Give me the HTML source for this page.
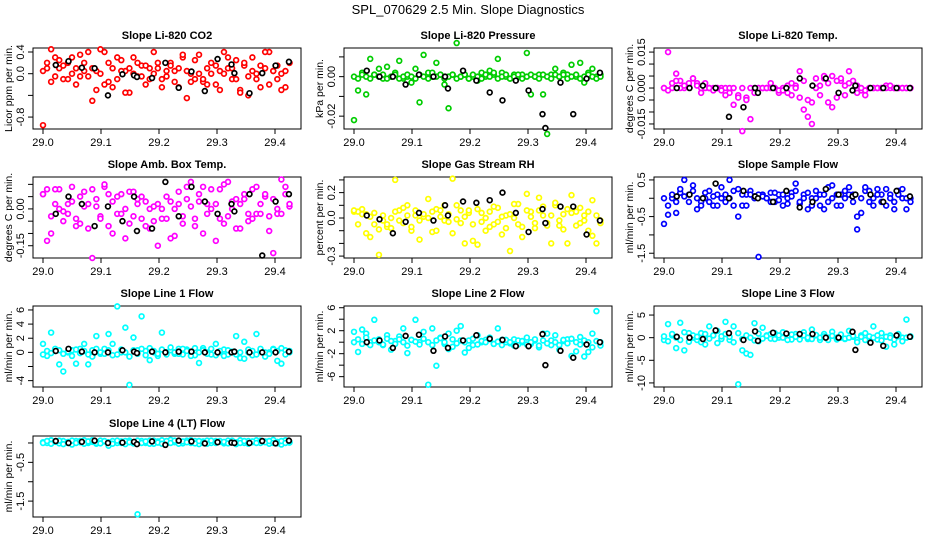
<!DOCTYPE html>
<html><head><meta charset="utf-8"><style>
body{margin:0;background:#fff}
svg{display:block;font-family:"Liberation Sans",sans-serif}
</style></head><body>
<svg id="chart" width="936" height="540" viewBox="0 0 936 540" xmlns="http://www.w3.org/2000/svg">
<rect width="936" height="540" fill="#fff"/>
<text x="468" y="14" text-anchor="middle" font-size="13">SPL_070629  2.5 Min. Slope Diagnostics</text>
<g id="panels"></g>
</svg>
<script>
const times=[29.000,29.007,29.014,29.021,29.028,29.035,29.043,29.050,29.057,29.064,29.071,29.078,29.085,29.092,29.099,29.106,29.113,29.120,29.128,29.135,29.142,29.149,29.156,29.163,29.170,29.177,29.184,29.191,29.198,29.205,29.213,29.220,29.227,29.234,29.241,29.248,29.255,29.262,29.269,29.276,29.283,29.290,29.298,29.305,29.312,29.319,29.326,29.333,29.340,29.347,29.354,29.361,29.368,29.375,29.383,29.390,29.397,29.404,29.411,29.418,29.425];
const blackTimes=[29.022,29.044,29.067,29.089,29.112,29.137,29.157,29.162,29.188,29.211,29.234,29.256,29.279,29.301,29.325,29.330,29.356,29.378,29.401,29.424];
const xTicks=[29.0,29.1,29.2,29.3,29.4];
const xTickLabels=["29.0","29.1","29.2","29.3","29.4"];

const co2A=[0.05,0.2,-0.15,0.3,0.1,-0.1,0.2,0.0,-0.2,0.35,0.05,-0.05,0.1,-0.3,0.0,0.4,-0.15,0.1,-0.1,0.25,0.05,-0.35,0.3,-0.05,0.15,-0.2,0.1,0.0,0.2,-0.1,0.05,0.2,-0.15,0.1,0.3,-0.45,0.0,-0.1,0.35,-0.15,0.1,0.2,-0.2,0.05,0.4,0.1,-0.1,0.25,-0.3,0.15,-0.05,0.3,0.0,-0.25,0.1,0.4,0.05,-0.1,0.0,-0.25,0.2];
const co2B=[-0.95,0.1,0.45,-0.05,0.25,0.15,-0.1,0.3,0.1,-0.05,0.2,0.4,-0.5,0.05,0.45,-0.2,0.2,-0.25,0.3,0.05,-0.35,0.1,0.0,0.2,-0.05,0.15,-0.1,0.4,0.1,-0.25,-0.05,0.15,0.05,-0.25,0.35,0.05,-0.15,0.25,0.0,-0.1,-0.2,0.0,0.15,-0.3,0.0,0.3,0.1,-0.1,-0.35,0.2,-0.4,0.05,-0.1,0.15,0.4,-0.2,0.05,0.15,-0.3,0.05,0.2];
const co2K=[0.16,0.23,0.11,0.1,-0.4,-0.01,-0.03,-0.06,-0.08,0.2,-0.26,0.04,-0.32,0.27,0.17,0.01,-0.36,0.01,0.15,0.22];

const presA=[-0.022,-0.007,0.002,-0.009,0.009,0.001,0.004,-0.001,0.005,0.0,0.002,0.008,-0.001,0.0,-0.003,0.004,-0.013,0.011,0.002,0.0,0.007,0.001,-0.004,-0.016,0.001,0.017,0.0,0.001,-0.001,0.0,-0.002,0.002,0.0,0.003,0.001,0.009,0.002,0.0,-0.001,0.001,0.0,0.001,0.012,-0.009,0.0,0.001,-0.009,-0.029,0.001,0.004,0.0,0.002,0.001,0.006,0.0,0.007,-0.003,0.002,0.004,0.0,0.001];
const presB=[0,-0.001,0.001,0,-0.001,0.001,0,0.001,-0.001,0,0.001,-0.001,0,0.001,0,-0.001,0.001,0,-0.001,0.002,0,0.001,-0.001,0,0.001,-0.001,0,0.001,-0.001,0.001,0,-0.001,0.001,0,0.002,-0.001,0,0.001,-0.001,0,0.001,-0.001,0,0.001,0,-0.001,0.001,0,-0.001,0.001,0,0.001,-0.001,0,0.001,-0.001,0,0.001,0,-0.001,0];
const presK=[0.003,0.0,0.0,-0.004,0.001,0.0,0.0,-0.006,0.003,-0.002,-0.008,-0.012,-0.002,-0.007,-0.019,-0.026,-0.003,-0.019,-0.001,0.002];

const tempA=[0,0.015,0,0.006,0.003,0,0.001,0.004,0.002,-0.002,0.002,0,0,0,0,0,-0.002,-0.007,-0.003,-0.018,-0.004,-0.013,0,0,0,0,0.002,0,-0.002,0,0.001,-0.003,0.001,0.007,-0.009,-0.012,-0.006,0.004,0.001,0.004,-0.006,0.005,-0.004,0.003,0.001,0.007,-0.001,0.001,-0.001,-0.001,0,0,0,0,0.001,0,0,0,0,0,0];
const tempB=[0,-0.001,0.002,0.003,0,0.001,0.002,0.004,0.001,0,0,0,-0.001,0,-0.001,-0.003,0,0,-0.004,0,-0.005,0,-0.002,0,0,0,0,0,-0.001,-0.001,-0.002,0.002,0,-0.004,0.003,-0.005,-0.015,0,-0.003,0.005,0.002,-0.008,0.003,0.004,-0.003,0.002,0.003,-0.002,0,-0.003,0,0,0,0,0,0.001,0,0,0,0,0];
const tempK=[0,0,0.001,0,-0.012,-0.008,0,-0.002,0,0,0.004,0.001,0.004,-0.002,-0.001,0.001,0,0,0,0];

const ambA=[0.06,0.08,-0.1,0.02,0.08,-0.01,-0.02,0.03,-0.07,0.05,0.01,-0.08,0.08,0.04,-0.03,0.09,-0.07,0.03,-0.02,0.06,-0.12,0.07,-0.03,0.04,0.05,-0.07,0.0,-0.05,-0.15,0.0,-0.04,0.03,-0.11,0.02,-0.06,0.04,0.11,-0.04,0.06,-0.1,0.02,0.08,-0.13,0.08,-0.06,0.11,0.03,-0.08,0.02,0.04,-0.05,0.08,-0.02,-0.02,0.05,-0.09,0.04,-0.02,0.12,0.06,0.01];
const ambB=[0.06,-0.13,-0.03,0.08,0.0,-0.05,0.02,0.09,-0.04,-0.06,0.07,0.02,-0.2,0.01,-0.04,0.1,0.06,-0.1,0.05,-0.02,0.0,-0.06,0.07,0.02,-0.04,0.03,-0.08,0.01,0.02,-0.04,0.05,-0.12,0.0,0.07,-0.03,0.09,0.01,-0.07,0.03,0.09,-0.02,0.0,0.02,-0.04,0.1,-0.03,0.0,0.04,-0.08,0.06,-0.02,-0.04,0.09,0.02,0.06,-0.03,-0.18,0.0,-0.02,0.09,0.02];
const ambK=[-0.02,0.05,0.02,-0.07,0.01,-0.05,0.05,-0.09,-0.08,0.11,-0.03,0.09,0.03,-0.02,0.02,-0.01,0.06,-0.19,0.03,0.06];

const rhA=[0.05,0.05,0.03,-0.12,0.01,-0.05,-0.09,-0.02,-0.07,0.0,0.3,0.06,-0.04,0.1,-0.1,0.02,-0.02,0.01,0.15,-0.11,0.07,0.06,-0.02,0.03,0.31,-0.01,0.06,-0.2,0.04,-0.18,0.07,-0.03,-0.1,0.05,-0.05,0.08,-0.13,0.02,-0.26,0.0,0.11,-0.07,0.19,0.05,-0.08,0.16,0.02,-0.04,-0.2,0.1,-0.06,0.03,-0.2,0.18,0.05,-0.04,0.02,-0.1,0.14,-0.2,-0.02];
const rhB=[0.06,-0.05,0.07,0.03,-0.15,0.04,-0.29,0.02,-0.05,-0.08,0.05,-0.02,0.08,0.02,-0.07,0.06,-0.17,0.03,0.0,0.05,-0.1,0.01,0.1,-0.03,-0.12,0.1,-0.04,0.01,0.06,-0.05,-0.21,0.04,0.0,-0.07,0.09,-0.03,0.01,-0.08,0.03,0.11,-0.05,-0.15,0.06,0.01,-0.04,0.06,0.09,-0.06,0.02,0.12,-0.02,-0.09,0.07,0.04,-0.06,0.08,-0.02,0.05,-0.14,0.02,-0.04];
const rhK=[0.02,-0.01,-0.12,-0.03,0.04,-0.02,0.1,0.02,0.13,0.12,0.14,0.2,0.04,-0.11,0.07,-0.04,0.09,0.09,-0.13,-0.02];

const sflA=[-0.7,-0.2,0.0,-0.4,0.15,0.5,0.1,0.2,-0.3,-0.1,0.0,0.2,-0.2,0.1,0.0,0.1,0.5,0.2,-0.5,-0.2,0.1,0.2,0.05,-1.6,0.1,0.0,0.15,-0.1,0.1,-0.2,0.0,0.15,0.2,-0.15,0.1,-0.3,0.0,0.2,0.1,-0.3,0.3,0.0,-0.2,0.1,0.2,0.1,0.1,-0.85,-0.4,0.2,-0.1,0.0,0.25,0.1,-0.2,0.1,-0.1,0.2,0.0,-0.3,0.0];
const sflB=[0.0,-0.45,0.1,-0.1,0.25,0.05,-0.1,0.35,0.0,-0.2,0.15,-0.1,0.05,-0.2,0.3,-0.1,0.0,-0.2,0.25,0.1,-0.2,0.1,0.0,0.1,0.05,0.0,-0.1,0.15,-0.05,0.1,-0.15,0.05,0.4,-0.1,0.0,0.15,-0.2,0.0,-0.2,0.1,-0.1,0.35,0.1,-0.2,0.0,0.3,-0.1,-0.5,0.0,0.3,0.2,-0.2,0.1,-0.1,0.25,0.0,-0.3,0.1,0.25,0.0,-0.1];
const sflK=[0.05,0.1,0.0,0.4,0.0,0.2,0.05,0.0,-0.1,0.2,-0.25,-0.1,0.25,0.1,0.05,0.1,0.1,-0.1,0.2,0.05];

const l1A=[1.2,-0.5,2.8,0.2,-1.7,-2.7,0.0,0.3,-1.6,0.5,1.2,-1.7,0.3,2.3,-0.2,0.5,2.6,-0.4,6.5,0.0,3.5,-4.6,2.1,0.3,5.1,0.2,-1.1,0.0,-0.5,2.8,0.0,0.3,-0.2,0.5,-0.3,0.4,0.0,-0.4,-1.5,0.6,0.0,-0.3,1.2,0.0,0.4,-0.3,0.0,2.3,-0.8,1.5,0.0,-0.4,2.6,0.3,-0.6,0.0,0.5,-1.2,-1.6,0.3,0.0];
const l1B=[-0.3,0.2,-0.1,0.5,0.3,-0.2,0.1,-0.5,0.4,-0.1,0.2,-0.3,-0.6,0.5,0.0,-0.2,0.3,1.2,-0.3,0.4,0.0,-0.6,0.3,-0.2,0.5,-0.4,0.6,0.2,-0.2,0.4,-0.3,0.7,0.0,-0.2,0.5,0.2,-0.5,0.6,0.0,0.3,-0.2,0.5,-0.4,0.2,-0.5,0.3,0.1,-0.3,0.0,-0.9,0.4,0.2,-0.3,0.5,0.0,-0.2,0.4,0.2,0.6,-0.3,0.2];
const l1K=[0.2,0.5,0.1,0.0,0.0,0.3,0.1,-0.1,0.1,0.0,0.1,0.1,0.0,0.0,0.0,0.1,0.0,0.0,0.0,0.1];

const l2A=[1.8,-1.7,2.2,1.5,0.0,3.9,0.5,-0.5,1.2,-1.3,0.2,1.0,2.4,-1.9,0.4,3.9,0.0,1.8,-7.4,2.4,-4.1,0.8,-0.3,1.5,-0.8,2.0,2.8,-1.8,0.3,-0.5,1.2,0.0,0.4,0.8,-0.3,2.4,0.4,0.0,-0.2,0.5,-0.4,0.0,0.8,-0.3,0.3,-0.9,0.3,1.5,-0.5,1.2,-1.3,0.2,0.5,-2.4,-1.6,0.9,-2.5,-1.7,1.5,5.4,-0.6];
const l2B=[0.0,0.5,-0.3,0.8,-0.5,0.3,0.0,-0.4,0.6,0.2,-0.3,0.5,0.0,-0.6,0.4,0.1,-0.4,0.6,0.0,-0.5,0.3,0.7,0.0,-1.2,0.5,-0.2,0.3,0.0,-1.0,0.6,-0.4,0.2,0.0,0.5,-0.3,0.1,-0.5,0.4,0.0,-0.6,0.3,0.2,-0.4,0.0,0.5,-0.6,1.5,-0.2,0.3,0.0,-0.5,0.4,-0.2,0.6,0.0,-0.4,0.3,0.0,-0.9,0.2,0.0];
const l2K=[0.0,0.3,-1.0,1.1,1.3,-1.5,1.0,-1.0,0.3,1.2,0.6,0.4,-0.7,-0.7,1.4,-4.0,-1.5,-2.7,-0.4,0.0];

const l3A=[-0.5,3.0,0.5,-2.3,3.3,-2.8,1.0,0.0,-0.5,1.0,-1.5,2.5,0.5,1.5,-0.3,3.5,-0.5,2.5,-10.3,-2.8,-3.5,-3.8,3.2,-0.8,2.2,0.5,-0.2,1.0,0.0,1.2,0.3,-0.4,0.8,0.0,1.2,-0.3,1.8,0.5,-0.5,0.8,0.0,1.3,-0.4,0.0,-0.3,1.5,0.2,-0.5,0.5,1.0,-0.8,2.5,-0.4,1.0,-2.0,0.5,-1.5,0.8,0.0,4.0,0.3];
const l3B=[0.3,-0.8,0.8,0.0,-0.5,1.2,-0.9,0.5,0.2,-1.0,0.8,-0.2,0.5,-1.2,0.3,0.8,0.2,-1.0,1.0,-0.3,0.5,0.0,-0.6,0.9,-0.2,0.4,0.8,-0.3,0.5,0.0,-0.5,0.7,0.2,-0.4,0.5,0.0,-0.3,0.6,0.0,0.3,-0.5,0.4,0.0,0.7,-0.2,0.0,0.4,-1.0,0.2,-0.5,0.3,0.0,0.5,-0.6,0.2,0.0,-0.4,0.3,-0.8,0.0,0.2];
const l3K=[0.2,0.0,-0.3,1.6,1.0,-0.5,1.4,-0.7,1.1,0.9,0.8,0.8,0.0,0.0,1.3,-2.7,-1.1,-1.8,0.5,0.2];

const l4A=[0.02,0.0,0.07,0.03,-0.01,0.05,0.0,-0.04,0.05,0.02,0.07,0.0,0.03,-0.02,0.06,0.04,-0.07,0.05,0.0,0.04,-0.03,0.06,0.02,-1.84,0.05,0.0,0.06,-0.02,0.04,0.07,-0.01,0.08,0.02,0.05,-0.01,0.06,0.0,0.05,-0.03,0.04,0.06,0.0,0.05,0.03,-0.01,0.06,0.02,-0.03,0.07,0.0,0.05,0.02,0.07,0.0,0.04,-0.02,0.08,0.03,-0.04,0.07,0.01];
const l4B=[0.0,0.05,-0.02,0.04,0.06,-0.03,0.03,0.06,0.0,0.05,-0.02,0.04,0.07,0.0,-0.01,0.05,0.02,-0.02,0.06,0.0,0.05,0.02,-0.01,0.06,0.0,0.04,-0.02,0.06,0.01,-0.02,0.05,0.0,0.06,-0.02,0.04,0.02,0.07,-0.01,0.05,0.0,-0.02,0.06,0.0,0.05,0.03,-0.01,0.06,0.02,0.0,0.05,-0.02,0.04,0.0,0.06,0.02,0.05,0.0,-0.01,0.05,0.0,0.03];
const l4K=[0.05,0.0,0.03,0.06,0.0,0.01,0.03,-0.03,0.04,-0.05,0.06,0.04,-0.01,0.02,0.01,0.0,0.0,0.05,-0.01,0.06];

const panels=[
 {name:"co2",col:0,row:0,title:"Slope Li-820 CO2",ylab:"Licor ppm per min.",top:0.474,bot:-1.02,ticks:[-0.8,-0.4,0,0.4],labs:{"-0.8":"-0.8","0":"0.0","0.4":"0.4"},color:"#ff0000",A:co2A,B:co2B,K:co2K},
 {name:"pressure",col:1,row:0,title:"Slope Li-820 Pressure",ylab:"kPa per min.",top:0.0145,bot:-0.0265,ticks:[-0.02,-0.01,0,0.01],labs:{"-0.02":"-0.02","0":"0.00"},color:"#00cd00",A:presA,B:presB,K:presK},
 {name:"temp",col:2,row:0,title:"Slope Li-820 Temp.",ylab:"degrees C per min.",top:0.0167,bot:-0.0171,ticks:[-0.015,-0.01,-0.005,0,0.005,0.01,0.015],labs:{"-0.015":"-0.015","0":"0.000","0.015":"0.015"},color:"#ff00ff",A:tempA,B:tempB,K:tempK},
 {name:"amb-box-temp",col:0,row:1,title:"Slope Amb. Box Temp.",ylab:"degrees C per min.",top:0.13,bot:-0.2,ticks:[-0.15,-0.1,-0.05,0,0.05,0.1],labs:{"-0.15":"-0.15","0":"0.00"},color:"#ff00ff",A:ambA,B:ambB,K:ambK},
 {name:"gas-stream-rh",col:1,row:1,title:"Slope Gas Stream RH",ylab:"percent per min.",top:0.323,bot:-0.315,ticks:[-0.3,-0.2,-0.1,0,0.1,0.2,0.3],labs:{"-0.3":"-0.3","0":"0.0","0.2":"0.2"},color:"#ffff00",A:rhA,B:rhB,K:rhK},
 {name:"sample-flow",col:2,row:1,title:"Slope Sample Flow",ylab:"ml/min per min.",top:0.58,bot:-1.63,ticks:[-1.5,-1,-0.5,0,0.5],labs:{"-1.5":"-1.5","-0.5":"-0.5","0.5":"0.5"},color:"#0000ff",A:sflA,B:sflB,K:sflK},
 {name:"line1-flow",col:0,row:2,title:"Slope Line 1 Flow",ylab:"ml/min per min.",top:6.56,bot:-4.9,ticks:[-4,-2,0,2,4,6],labs:{"-4":"-4","0":"0","2":"2","4":"4","6":"6"},color:"#00ffff",A:l1A,B:l1B,K:l1K},
 {name:"line2-flow",col:1,row:2,title:"Slope Line 2 Flow",ylab:"ml/min per min.",top:6.3,bot:-7.8,ticks:[-6,-4,-2,0,2,4,6],labs:{"-6":"-6","-2":"-2","2":"2","6":"6"},color:"#00ffff",A:l2A,B:l2B,K:l2K},
 {name:"line3-flow",col:2,row:2,title:"Slope Line 3 Flow",ylab:"ml/min per min.",top:7.0,bot:-10.9,ticks:[-10,-5,0,5],labs:{"-10":"-10","-5":"-5","0":"0","5":"5"},color:"#00ffff",A:l3A,B:l3B,K:l3K},
 {name:"line4-flow",col:0,row:3,title:"Slope Line 4 (LT) Flow",ylab:"ml/min per min.",top:0.18,bot:-1.91,ticks:[-1.5,-1,-0.5,0],labs:{"-1.5":"-1.5","-0.5":"-0.5"},color:"#00ffff",A:l4A,B:l4B,K:l4K}
];
const NS="http://www.w3.org/2000/svg";
const root=document.getElementById("panels");
function mk(tag,attrs,parent){const e=document.createElementNS(NS,tag);for(const k in attrs)e.setAttribute(k,attrs[k]);parent.appendChild(e);return e;}
const colOff=[0,311,621], rowTop=[48,177,306,436];
panels.forEach(p=>{
 const ox=colOff[p.col], bt=rowTop[p.row], bb=bt+81, bl=ox+33, br=ox+301;
 const xs=v=>ox+43+(v-29.0)*580;
 const ys=v=>bt+(p.top-v)/(p.top-p.bot)*81;
 const g=mk("g",{},root);
 
 
 const t=mk("text",{x:(bl+br)/2,y:bt-9,"text-anchor":"middle","font-size":"11","font-weight":"bold"},g);t.textContent=p.title;
 
 
 const yl=mk("text",{x:0,y:0,"text-anchor":"middle","font-size":"10.5",transform:`translate(${ox+12},${(bt+bb)/2}) rotate(-90)`},g);yl.textContent=p.ylab;
 
 
 const box=mk("rect",{x:bl,y:bt,width:br-bl,height:bb-bt,fill:"none",stroke:"#000","stroke-width":"1"},g);
 
 
 // y ticks
 p.ticks.forEach(v=>{
  const y=ys(v);
  const tk=mk("line",{x1:bl,x2:bl-5,y1:y,y2:y,stroke:"#000"},g);
  
  
  const key=String(v);
  if(p.labs[key]!==undefined){
   const lt=mk("text",{x:0,y:0,"text-anchor":"middle","font-size":"11",transform:`translate(${bl-9},${y}) rotate(-90)`},g);lt.textContent=p.labs[key];
   
   
  }
 });
 xTicks.forEach((v,i)=>{
  const x=xs(v);
  const tk=mk("line",{x1:x,x2:x,y1:bb,y2:bb+5,stroke:"#000"},g);
  
  
  const lt=mk("text",{x:x,y:bb+17,"text-anchor":"middle","font-size":"11"},g);lt.textContent=xTickLabels[i];
  
  
 });
 [p.A,p.B].forEach(arr=>{
  arr.forEach((v,i)=>{
   const c=mk("circle",{cx:xs(times[i]),cy:ys(v),r:2.4,fill:"#fff",stroke:p.color,"stroke-width":"1.7"},g);
   
   
  });
 });
 p.K.forEach((v,i)=>{
  const c=mk("circle",{cx:xs(blackTimes[i]),cy:ys(v),r:2.4,fill:"#fff",stroke:"#000","stroke-width":"1.7"},g);
  
  
 });
});
</script>
</body></html>
